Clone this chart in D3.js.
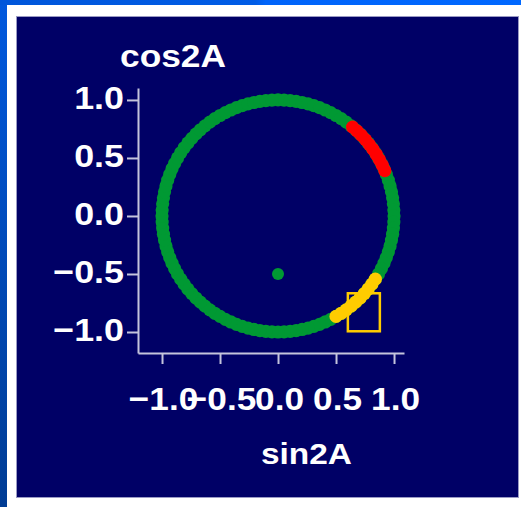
<!DOCTYPE html>
<html>
<head>
<meta charset="utf-8">
<script src="https://cdn.jsdelivr.net/npm/d3@7"></script>
<style>
  html, body { margin: 0; padding: 0; background: #ffffff; }
  svg { display: block; }
</style>
</head>
<body>
<script>
// ---- data ----
// angle A (degrees) of each measured point on the ring; plotted as (sin2A, cos2A)
const ringAngles = [0,1.5,3,4.5,6,7.5,9,10.5,12,13.5,15,16.5,18,19.5,21,22.5,24,25.5,27,28.5,
  30,31.5,33,34.5,36,37.5,39,40.5,42,43.5,45,46.5,48,49.5,51,52.5,54,55.5,57,58.5,
  60,61.5,63,64.5,66,67.5,69,70.5,72,73.5,75,76.5,78,79.5,81,82.5,84,85.5,87,88.5,
  90,91.5,93,94.5,96,97.5,99,100.5,102,103.5,105,106.5,108,109.5,111,112.5,114,115.5,117,118.5,
  120,121.5,123,124.5,126,127.5,129,130.5,132,133.5,135,136.5,138,139.5,141,142.5,144,145.5,147,148.5,
  150,151.5,153,154.5,156,157.5,159,160.5,162,163.5,165,166.5,168,169.5,171,172.5,174,175.5,177,178.5];
const redAngles = [20,21.5,23,24.5,26,27.5,29,30.5,32,33.5];
const yellowAngles = [61.5,63,64.5,66,67.5,69,70.5,72,73.5,75];
const centerPoint = [0, -0.5];        // (sin2A, cos2A)
const squarePoint = [0.74, -0.83];    // (sin2A, cos2A)
const tickValues = [-1.0, -0.5, 0.0, 0.5, 1.0];
const xTitle = "sin2A";
const yTitle = "cos2A";

// ---- drawing ----
const W = 521, H = 507;
const svg = d3.select("body").append("svg").attr("width", W).attr("height", H);
const defs = svg.append("defs");
const gLeft = defs.append("linearGradient").attr("id", "gl").attr("x1", 0).attr("y1", 0).attr("x2", 0).attr("y2", 1);
gLeft.append("stop").attr("offset", 0).attr("stop-color", "#0058de");
gLeft.append("stop").attr("offset", 1).attr("stop-color", "#003c94");
const gTop = defs.append("linearGradient").attr("id", "gt").attr("x1", 0).attr("y1", 0).attr("x2", 1).attr("y2", 0);
gTop.append("stop").attr("offset", 0).attr("stop-color", "#0056da");
gTop.append("stop").attr("offset", 0.49).attr("stop-color", "#005ce6");
gTop.append("stop").attr("offset", 0.51).attr("stop-color", "#0064fa");
gTop.append("stop").attr("offset", 1).attr("stop-color", "#0068ff");

svg.append("rect").attr("x", 0).attr("y", 0).attr("width", W).attr("height", H).attr("fill", "url(#gl)");
svg.append("rect").attr("x", 0).attr("y", 0).attr("width", W).attr("height", 5).attr("fill", "url(#gt)");
svg.append("rect").attr("x", 7).attr("y", 5).attr("width", W - 7).attr("height", H - 5).attr("fill", "#ffffff");
svg.append("rect").attr("x", 16.5).attr("y", 16.5).attr("width", 502).attr("height", 481)
  .attr("fill", "#000066").attr("stroke", "#9a9ac4").attr("stroke-width", 1);

const x = d3.scaleLinear().domain([-1.207, 1.086]).range([138, 404]);
const y = d3.scaleLinear().domain([-1.181, 1.103]).range([353, 88]);

const FONT = "'Liberation Sans', Arial, Helvetica, sans-serif";
const fmt = d3.format(".1f");

// axes
const xAxis = svg.append("g").attr("transform", "translate(0,353)")
  .call(d3.axisBottom(x).tickValues(tickValues).tickSize(11).tickSizeOuter(0).tickFormat(fmt));
const yAxis = svg.append("g").attr("transform", "translate(138,0)")
  .call(d3.axisLeft(y).tickValues(tickValues).tickSize(11).tickSizeOuter(0).tickFormat(fmt));
[xAxis, yAxis].forEach(g => {
  g.selectAll("path, line").attr("stroke", "#c4c4dc").attr("stroke-width", 2);
  g.selectAll("text").attr("fill", "#ffffff").attr("font-family", FONT)
    .attr("font-weight", "bold").attr("font-size", 32);
});
xAxis.selectAll("text").attr("x", 0).attr("y", 0).attr("dy", 0)
  .attr("transform", "translate(1,57) scale(1.1,1)");
yAxis.selectAll("text").attr("x", 0).attr("y", 0).attr("dy", 0)
  .attr("transform", "translate(-14,9) scale(1.12,1)");

// titles
svg.append("text").attr("x", 120).attr("y", 67).text(yTitle)
  .attr("textLength", 106).attr("lengthAdjust", "spacingAndGlyphs")
  .attr("fill", "#fff").attr("font-family", FONT).attr("font-weight", "bold").attr("font-size", 31);
svg.append("text").attr("x", 261).attr("y", 464).text(xTitle)
  .attr("textLength", 91).attr("lengthAdjust", "spacingAndGlyphs")
  .attr("fill", "#fff").attr("font-family", FONT).attr("font-weight", "bold").attr("font-size", 29);

const rad = a => a * Math.PI / 90; // 2A in radians
const R = 6.6;
function dots(data, color) {
  svg.append("g").selectAll("circle").data(data).join("circle")
    .attr("cx", a => x(Math.sin(rad(a))))
    .attr("cy", a => y(Math.cos(rad(a))))
    .attr("r", R).attr("fill", color);
}
dots(ringAngles, "#009933");
dots(redAngles, "#ff0000");
dots(yellowAngles, "#ffcc00");

svg.append("circle").attr("cx", x(centerPoint[0])).attr("cy", y(centerPoint[1]))
  .attr("r", 6).attr("fill", "#009933");

svg.append("rect")
  .attr("x", x(squarePoint[0]) - 16).attr("y", y(squarePoint[1]) - 19)
  .attr("width", 32).attr("height", 38)
  .attr("fill", "none").attr("stroke", "#ffcc00").attr("stroke-width", 2.5);
</script>
</body>
</html>
